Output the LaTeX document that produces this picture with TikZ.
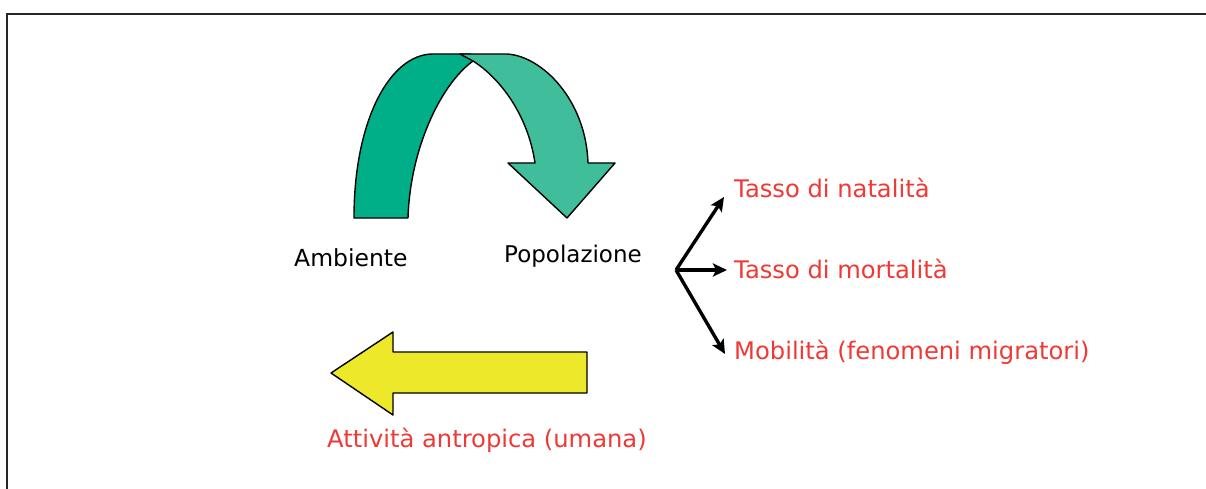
\documentclass[tikz,border=0pt]{standalone}
\usepackage{fontspec}
\setmainfont{DejaVu Sans}
\usetikzlibrary{arrows.meta}
\definecolor{darkgreen}{RGB}{0,174,136}
\definecolor{lightgreen}{RGB}{64,190,156}
\definecolor{arrowyellow}{RGB}{237,232,42}
\definecolor{labelred}{RGB}{240,56,52}
\tikzset{
  shapeline/.style={draw=black, line width=1.4pt, line join=round},
  blacklabel/.style={anchor=base west, inner sep=0pt, font=\fontsize{23.5}{27}\selectfont, text=black},
  redlabel/.style={anchor=base west, inner sep=0pt, font=\fontsize{24.2}{28}\selectfont, text=labelred},
  forkarrow/.style={draw=black, line width=3.4pt, -{Stealth[length=14pt,width=13pt,inset=3pt]}}
}
\begin{document}
\begin{tikzpicture}[x=1pt,y=-1pt]
\useasboundingbox (0,0) rectangle (1206,489);
\fill[white] (0,0) rectangle (1206,489);
% frame
\draw[line width=1.6pt, black!85] (7,489) -- (7,14) -- (1206,14);
% left (dark) band of curved arrow
\path[shapeline, fill=darkgreen]
  (354,218) .. controls (354,120) and (390,54) .. (433,54)
  -- (470,54) -- (473,61)
  .. controls (440,85) and (410,150) .. (408,218) -- cycle;
% right (light) band with head
\path[shapeline, fill=lightgreen]
  (460,54) -- (507,54)
  .. controls (542,56) and (586,100) .. (588,163)
  -- (615,163) -- (567,218) -- (508,163) -- (535,163)
  .. controls (528,115) and (500,78) .. (473,61) -- cycle;
% yellow arrow
\path[shapeline, fill=arrowyellow]
  (331,373) -- (393,332) -- (393,352) -- (587,352) -- (587,393) -- (393,393) -- (393,415) -- cycle;
% labels
\node[blacklabel] (amb) at (294,266) {Ambiente};
\node[blacklabel, font=\fontsize{23}{27}\selectfont] (pop) at (504,262) {Popolazione};
\node[redlabel] (nat) at (734,197) {Tasso di natalità};
\node[redlabel] (mort) at (734,278) {Tasso di mortalità};
\node[redlabel] (mob) at (734,359) {Mobilità (fenomeni migratori)};
\node[redlabel] (att) at (327,447) {Attività antropica (umana)};
% fork arrows
\coordinate (fork) at (676,270);
\coordinate (t1) at (724,197);
\coordinate (t2) at (727,270);
\coordinate (t3) at (725,354);
\draw[forkarrow] (fork) -- (t1);
\draw[forkarrow] (fork) -- (t2);
\draw[forkarrow] (fork) -- (t3);
\end{tikzpicture}
\end{document}
